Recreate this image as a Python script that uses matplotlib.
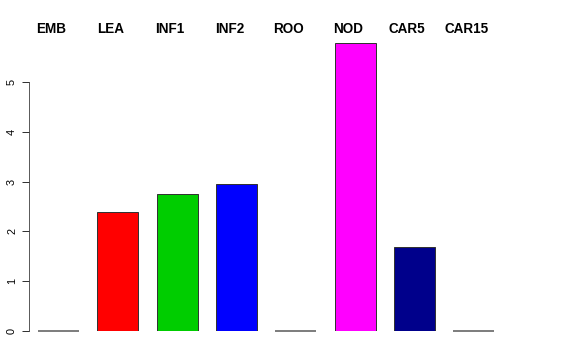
import matplotlib
matplotlib.use("Agg")
import matplotlib.pyplot as plt
import matplotlib.transforms as mtransforms

# stages and values
stages = ['EMB', 'LEA', 'INF1', 'INF2', 'ROO', 'NOD', 'CAR5', 'CAR15']
values = [0.0, 2.39, 2.75, 2.95, 0.0, 5.78, 1.69, 0.0]
colors = ['black', 'red', '#00CD00', 'blue', 'cyan', 'magenta', '#00008B', 'gray']

plt.rcParams['font.family'] = ['Liberation Sans', 'DejaVu Sans']

fig = plt.figure(figsize=(8, 5), dpi=72, facecolor='w')
# axes placed in pixels: left spine at x=29, y=0 at pixel 331
W, H = 576, 360
ppu_x = 59.3
ppu_y = 49.8
bw = 0.69
x0, x1 = -0.5, 8.4
y1 = 6.0
ax = fig.add_axes([29 / W, (H - 331) / H, (x1 - x0) * ppu_x / W, y1 * ppu_y / H])

xpos = list(range(len(stages)))
ax.bar(xpos, values, width=bw, color=colors, edgecolor='#333333', linewidth=1.0)
# zero-height bars show up as a flat line
for x, v in zip(xpos, values):
    if v == 0:
        ax.hlines(v, x - bw / 2, x + bw / 2, color='#555555', lw=1.5, clip_on=False)

ax.set_xlim(x0, x1)
ax.set_ylim(0, y1)
for s in ['top', 'right', 'bottom']:
    ax.spines[s].set_visible(False)
ax.spines['left'].set_bounds(0, 5)
ax.spines['left'].set_color('#333333')
ax.set_xticks([])
ax.set_yticks(range(0, 6))
ax.tick_params(axis='y', length=7, width=1, color='#333333', pad=5, labelsize=11)
for lab in ax.get_yticklabels():
    lab.set_rotation(90)
    lab.set_va('center')

trans = mtransforms.blended_transform_factory(ax.transData, fig.transFigure)
for x, name in zip(xpos, stages):
    ax.text(x - 0.12, 1 - 29 / H, name, transform=trans, ha='center', va='center',
            fontsize=13.5, fontweight='bold', clip_on=False)

fig.savefig('out.png', dpi=72)
plt.close(fig)
